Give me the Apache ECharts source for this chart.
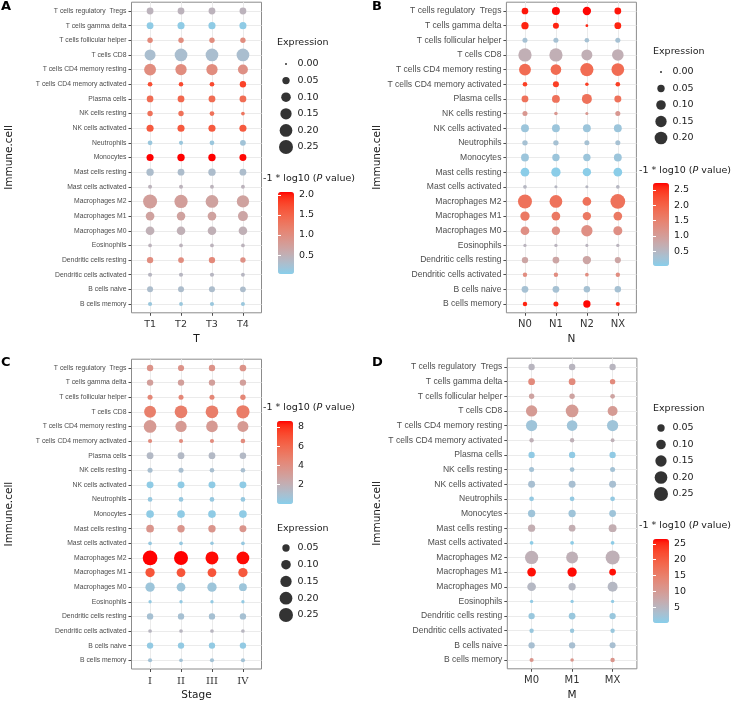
<!DOCTYPE html>
<html><head><meta charset="utf-8">
<script src="https://cdn.jsdelivr.net/npm/echarts@6/dist/echarts.min.js"></script>
<style>html,body{margin:0;padding:0;background:#fff}#c{width:734px;height:702px}</style>
</head><body><div id="c"></div>
<script>
// ---------------- DATA ----------------
const cells = ['T cells regulatory  Tregs','T cells gamma delta','T cells follicular helper','T cells CD8',
 'T cells CD4 memory resting','T cells CD4 memory activated','Plasma cells','NK cells resting','NK cells activated',
 'Neutrophils','Monocytes','Mast cells resting','Mast cells activated','Macrophages M2','Macrophages M1',
 'Macrophages M0','Eosinophils','Dendritic cells resting','Dendritic cells activated','B cells naive','B cells memory'];

const groupsA = ['T1','T2','T3','T4'];
const groupsB = ['N0','N1','N2','NX'];
const groupsC = ['I','II','III','IV'];
const groupsD = ['M0','M1','MX'];

// Expression (dot size), rows follow `cells`
const exprA = [[0.04,0.04,0.04,0.04],[0.04,0.045,0.045,0.045],[0.02,0.02,0.02,0.02],[0.14,0.2,0.2,0.2],
 [0.17,0.15,0.15,0.11],[0.013,0.011,0.013,0.033],[0.038,0.04,0.04,0.04],[0.02,0.02,0.013,0.005],
 [0.045,0.045,0.045,0.045],[0.013,0.008,0.013,0.025],[0.045,0.05,0.05,0.043],[0.05,0.04,0.05,0.04],
 [0.007,0.007,0.006,0.006],[0.25,0.22,0.2,0.185],[0.078,0.075,0.078,0.11],[0.078,0.075,0.075,0.075],
 [0.005,0.005,0.005,0.005],[0.033,0.025,0.033,0.02],[0.008,0.008,0.008,0.006],[0.028,0.028,0.028,0.025],
 [0.008,0.006,0.008,0.007]];
const pvalA = [[0.45,0.45,0.45,0.45],[0.08,0.08,0.08,0.08],[1.05,1.0,1.0,1.0],[0.28,0.28,0.28,0.28],
 [1.0,1.0,1.0,0.95],[1.7,1.75,1.75,1.8],[1.4,1.45,1.4,1.4],[1.35,1.35,1.35,1.3],[1.6,1.6,1.6,1.6],
 [0.15,0.15,0.15,0.2],[2.07,2.07,2.07,2.05],[0.3,0.3,0.3,0.3],[0.45,0.45,0.45,0.45],[0.75,0.75,0.7,0.7],
 [0.7,0.7,0.7,0.65],[0.5,0.5,0.5,0.5],[0.45,0.45,0.45,0.45],[1.0,1.0,1.05,0.95],[0.4,0.4,0.4,0.4],
 [0.3,0.3,0.3,0.3],[0.15,0.15,0.15,0.15]];

const exprB = [[0.038,0.0625,0.07,0.04],[0.049,0.028,0.001,0.04],[0.016,0.016,0.012,0.016],[0.22,0.22,0.14,0.16],
 [0.17,0.13,0.22,0.2],[0.012,0.028,0.004,0.012],[0.04,0.06,0.11,0.043],[0.016,0.004,0.002,0.016],
 [0.06,0.06,0.06,0.06],[0.02,0.02,0.016,0.016],[0.06,0.05,0.05,0.06],[0.078,0.093,0.07,0.078],
 [0.005,0.002,0.002,0.005],[0.25,0.2,0.078,0.28],[0.093,0.078,0.07,0.078],[0.078,0.07,0.15,0.085],
 [0.003,0.003,0.002,0.003],[0.033,0.04,0.07,0.03],[0.01,0.01,0.005,0.01],[0.04,0.04,0.035,0.035],
 [0.01,0.016,0.049,0.008]];
const pvalB = [[2.65,2.7,2.7,2.65],[2.6,2.6,2.6,2.6],[0.3,0.3,0.3,0.3],[0.65,0.65,0.65,0.65],
 [1.85,1.85,1.85,1.85],[2.4,2.4,2.4,2.4],[1.75,1.75,1.75,1.75],[1.1,1.1,1.1,1.1],[0.2,0.2,0.2,0.2],
 [0.3,0.3,0.3,0.3],[0.2,0.2,0.2,0.2],[0.05,0.05,0.05,0.05],[0.5,0.5,0.5,0.5],[1.75,1.75,1.75,1.75],
 [1.65,1.65,1.65,1.65],[1.25,1.25,1.25,1.25],[0.55,0.55,0.55,0.55],[0.85,0.85,0.85,0.85],[1.3,1.3,1.3,1.3],
 [0.3,0.3,0.3,0.3],[2.6,2.6,2.7,2.6]];

const exprC = [[0.033,0.03,0.033,0.038],[0.033,0.033,0.033,0.033],[0.016,0.016,0.016,0.02],[0.17,0.2,0.2,0.22],
 [0.2,0.15,0.16,0.14],[0.008,0.008,0.008,0.012],[0.04,0.04,0.04,0.035],[0.016,0.016,0.012,0.012],
 [0.043,0.043,0.043,0.043],[0.013,0.013,0.013,0.013],[0.056,0.056,0.056,0.056],[0.056,0.05,0.05,0.043],
 [0.005,0.005,0.004,0.005],[0.28,0.25,0.21,0.2],[0.093,0.08,0.08,0.093],[0.093,0.078,0.093,0.06],
 [0.003,0.003,0.003,0.003],[0.033,0.033,0.033,0.033],[0.005,0.005,0.005,0.005],[0.033,0.033,0.033,0.033],
 [0.008,0.005,0.008,0.008]];
const pvalC = [[3.7,3.7,3.7,3.7],[3.0,3.0,3.0,3.0],[4.4,4.4,4.4,4.4],[4.8,4.9,4.9,5.0],[3.3,3.3,3.3,3.3],
 [4.2,4.2,4.2,4.2],[1.4,1.4,1.4,1.4],[1.0,1.0,1.0,1.0],[0.2,0.2,0.2,0.2],[0.4,0.4,0.4,0.4],[0.2,0.2,0.2,0.2],
 [3.6,3.6,3.6,3.6],[0.4,0.4,0.4,0.4],[8.6,8.6,8.5,8.5],[6.8,6.8,6.8,6.7],[0.6,0.6,0.6,0.6],[0.3,0.3,0.3,0.3],
 [0.9,0.9,0.9,0.9],[1.6,1.6,1.6,1.6],[0.3,0.3,0.3,0.3],[0.8,0.8,0.8,0.8]];

const exprD = [[0.033,0.035,0.033],[0.04,0.04,0.02],[0.02,0.02,0.013],[0.15,0.2,0.11],[0.15,0.13,0.15],
 [0.01,0.01,0.006],[0.033,0.033,0.033],[0.016,0.013,0.016],[0.043,0.043,0.043],[0.013,0.013,0.013],
 [0.049,0.049,0.04],[0.049,0.04,0.06],[0.005,0.005,0.005],[0.22,0.17,0.25],[0.078,0.093,0.04],
 [0.078,0.049,0.11],[0.003,0.003,0.003],[0.033,0.04,0.033],[0.01,0.01,0.01],[0.033,0.033,0.028],
 [0.008,0.004,0.01]];
const pvalD = [[5,5,5],[13,13,13],[8.5,8.5,8.5],[10,10,10],[2,2,2],[6,6,6],[0.8,0.8,0.8],[2.5,2.5,2.5],
 [3,3,3],[1,1,1],[2,2,2],[6.5,6.5,6.5],[0.5,0.5,0.5],[6,6,6],[26,26.2,26],[4.5,4.5,4.5],[0.8,0.8,0.8],
 [1.5,1.5,1.5],[1.5,1.5,1.5],[3,3,3],[11,11,11]];

// colour scale limits and colourbar ticks
const cRangeA = [0.03, 2.07], cTicksA = [0.5,1,1.5,2], cLabelsA = ['0.5','1.0','1.5','2.0'];
const cRangeB = [0.02, 2.72], cTicksB = [0.5,1,1.5,2,2.5], cLabelsB = ['0.5','1.0','1.5','2.0','2.5'];
const cRangeC = [0, 8.6], cTicksC = [2,4,6,8], cLabelsC = ['2','4','6','8'];
const cRangeD = [0, 26.5], cTicksD = [5,10,15,20,25], cLabelsD = ['5','10','15','20','25'];
// size legend breaks
const sBreaksA = [0,0.05,0.10,0.15,0.20,0.25], sLabelsA = ['0.00','0.05','0.10','0.15','0.20','0.25'];
const sBreaksB = [0,0.05,0.10,0.15,0.20], sLabelsB = ['0.00','0.05','0.10','0.15','0.20'];
const sBreaksC = [0.05,0.10,0.15,0.20,0.25], sLabelsC = ['0.05','0.10','0.15','0.20','0.25'];
const sBreaksD = [0.05,0.10,0.15,0.20,0.25], sLabelsD = ['0.05','0.10','0.15','0.20','0.25'];

// ---------------- STYLE HELPERS ----------------
const sizeOf = v => 2 + 24 * Math.sqrt(Math.max(v, 0));
function s2l(c){c/=255;return c<=0.04045?c/12.92:Math.pow((c+0.055)/1.055,2.4);}
function l2s(c){const v=c<=0.0031308?12.92*c:1.055*Math.pow(c,1/2.4)-0.055;return Math.max(0,Math.min(255,Math.round(v*255)));}
function rgb2lab(rgb){const r=s2l(rgb[0]),g=s2l(rgb[1]),b=s2l(rgb[2]);
 const x=(0.4124564*r+0.3575761*g+0.1804375*b)/0.95047, y=0.2126729*r+0.7151522*g+0.0721750*b,
 z=(0.0193339*r+0.1191920*g+0.9503041*b)/1.08883;
 const f=t=>t>0.008856?Math.cbrt(t):7.787*t+16/116; const fx=f(x),fy=f(y),fz=f(z);
 return [116*fy-16,500*(fx-fy),200*(fy-fz)];}
function lab2rgb(lab){const fy=(lab[0]+16)/116, fx=fy+lab[1]/500, fz=fy-lab[2]/200;
 const fi=t=>t*t*t>0.008856?t*t*t:(t-16/116)/7.787;
 const x=fi(fx)*0.95047,y=fi(fy),z=fi(fz)*1.08883;
 const r=3.2404542*x-1.5371385*y-0.4985314*z, g=-0.9692660*x+1.8760108*y+0.0415560*z, b=0.0556434*x-0.2040259*y+1.0572252*z;
 return 'rgb('+l2s(r)+','+l2s(g)+','+l2s(b)+')';}
const lo = rgb2lab([135,206,235]), hi = rgb2lab([255,0,0]);
const stops = [];
for (let i=0;i<=24;i++){const t=i/24; stops.push(lab2rgb([lo[0]+(hi[0]-lo[0])*t, lo[1]+(hi[1]-lo[1])*t, lo[2]+(hi[2]-lo[2])*t]));}

const SANS = 'DejaVu Sans', ARIAL = 'Liberation Sans';
const panels = [
 {letter:'A', groups:groupsA, expr:exprA, pval:pvalA, xName:'T', cRange:cRangeA, cTicks:cTicksA, cLabels:cLabelsA, sBreaks:sBreaksA, sLabels:sLabelsA,
  lay:{gx:131.5, gy:2.2, gw:130, gh:310.6, yFont:6.8, xFont:9.5, xFam:SANS, yNameGap:117, lx:1, ly:0,
       sx:279, sTop:55.7, sH:99.6, ex:277, ey:38, bx:278, bTop:192, bH:82, ctx:263, cty:174}},
 {letter:'B', groups:groupsB, expr:exprB, pval:pvalB, xName:'N', cRange:cRangeB, cTicks:cTicksB, cLabels:cLabelsB, sBreaks:sBreaksB, sLabels:sLabelsB,
  lay:{gx:506.4, gy:2.2, gw:130, gh:310.6, yFont:8.55, xFont:10, xFam:SANS, yNameGap:124, lx:372, ly:0,
       sx:654, sTop:63.75, sH:82.5, ex:653, ey:47, bx:653, bTop:183, bH:83, ctx:639, cty:166}},
 {letter:'C', groups:groupsC, expr:exprC, pval:pvalC, xName:'Stage', cRange:cRangeC, cTicks:cTicksC, cLabels:cLabelsC, sBreaks:sBreaksC, sLabels:sLabelsC,
  lay:{gx:131.5, gy:359.2, gw:130, gh:310.6, yFont:6.8, xFont:10, xFam:'DejaVu Serif', yNameGap:117, lx:1, ly:356,
       sx:279, sTop:539.6, sH:83.75, ex:277, ey:524, bx:277, bTop:421, bH:83, ctx:263, cty:403}},
 {letter:'D', groups:groupsD, expr:exprD, pval:pvalD, xName:'M', cRange:cRangeD, cTicks:cTicksD, cLabels:cLabelsD, sBreaks:sBreaksD, sLabels:sLabelsD,
  lay:{gx:507.3, gy:358.2, gw:129.6, gh:310.6, yFont:8.55, xFont:10, xFam:SANS, yNameGap:125, lx:372, ly:356,
       sx:654, sTop:419.75, sH:82.5, ex:653, ey:404, bx:653, bTop:539, bH:84, ctx:639, cty:521}}
];

const option = {animation:false, backgroundColor:'#fff', title:[], grid:[], xAxis:[], yAxis:[], series:[], visualMap:[]};
panels.forEach(p => {
 const L = p.lay;
 option.title.push({text:p.letter, left:L.lx, top:L.ly, padding:0, textStyle:{fontFamily:SANS, fontWeight:'bold', fontSize:13, color:'#000'}});
 option.title.push({text:'Expression', left:L.ex, top:L.ey, padding:0, textStyle:{fontFamily:SANS, fontWeight:'normal', fontSize:9.5, color:'#1a1a1a'}});
 option.title.push({text:'-1 * log10 ({i|P} value)', left:L.ctx, top:L.cty, padding:0,
   textStyle:{fontFamily:SANS, fontWeight:'normal', fontSize:9.5, color:'#1a1a1a',
     rich:{i:{fontFamily:SANS, fontStyle:'italic', fontSize:9.5, color:'#1a1a1a'}}}});

 let gi = option.grid.length;
 option.grid.push({left:L.gx, top:L.gy, width:L.gw, height:L.gh, show:true, borderColor:'#8c8c8c', borderWidth:1, backgroundColor:'#fff'});
 const xVals = p.groups.map((g,i)=>i+1), yVals = cells.map((c,i)=>i+1);
 let xi = option.xAxis.length, yi = option.yAxis.length;
 option.xAxis.push({gridIndex:gi, type:'value', min:0.4, max:p.groups.length+0.6,
   axisLine:{show:false}, axisTick:{show:true, length:3, customValues:xVals, lineStyle:{color:'#4d4d4d'}},
   axisLabel:{customValues:xVals, formatter:v=>p.groups[Math.round(v)-1], margin:7, color:'#333', fontFamily:L.xFam, fontSize:L.xFont},
   splitLine:{show:true, lineStyle:{color:'#ebebeb', width:1}},
   name:p.xName, nameLocation:'middle', nameGap:21, nameTextStyle:{fontFamily:SANS, fontSize:10.5, color:'#1a1a1a'}});
 option.yAxis.push({gridIndex:gi, type:'value', min:0.4, max:cells.length+0.6, inverse:true,
   axisLine:{show:false}, axisTick:{show:true, length:3, customValues:yVals, lineStyle:{color:'#4d4d4d'}},
   axisLabel:{customValues:yVals, formatter:v=>cells[Math.round(v)-1], margin:5, color:'#4d4d4d', fontFamily:ARIAL, fontSize:L.yFont},
   splitLine:{show:true, lineStyle:{color:'#ebebeb', width:1}},
   name:'Immune.cell', nameLocation:'middle', nameRotate:90, nameGap:L.yNameGap, nameTextStyle:{fontFamily:SANS, fontSize:10.5, color:'#1a1a1a'}});
 const data = [];
 cells.forEach((c,r)=>p.groups.forEach((g,k)=>data.push([k+1, r+1, p.pval[r][k], p.expr[r][k]])));
 const si = option.series.length;
 option.series.push({type:'scatter', xAxisIndex:xi, yAxisIndex:yi, data:data, symbol:'circle',
   symbolSize:v=>sizeOf(v[3]), itemStyle:{opacity:1}, z:3});
 option.visualMap.push({type:'continuous', seriesIndex:si, dimension:2, min:p.cRange[0], max:p.cRange[1],
   inRange:{color:stops}, calculable:false, hoverLink:false, left:L.bx, top:L.bTop, itemWidth:16, itemHeight:L.bH, padding:0, orient:'vertical'});

 gi = option.grid.length;
 option.grid.push({left:L.bx, top:L.bTop, width:16, height:L.bH, show:false});
 option.xAxis.push({gridIndex:gi, type:'value', show:false});
 option.yAxis.push({gridIndex:gi, type:'value', position:'right', min:p.cRange[0], max:p.cRange[1], z:10,
   axisLine:{show:false}, splitLine:{show:false},
   axisTick:{show:true, inside:true, length:3, customValues:p.cTicks, lineStyle:{color:'#fff', width:1}},
   axisLabel:{customValues:p.cTicks, formatter:v=>p.cLabels[p.cTicks.indexOf(v)], margin:5, color:'#1a1a1a', fontFamily:SANS, fontSize:9.5}});
 option.yAxis.push({gridIndex:gi, type:'value', position:'left', min:p.cRange[0], max:p.cRange[1], z:10,
   axisLine:{show:false}, splitLine:{show:false}, axisLabel:{show:false},
   axisTick:{show:true, inside:true, length:3, customValues:p.cTicks, lineStyle:{color:'#fff', width:1}}});

 gi = option.grid.length;
 option.grid.push({left:L.sx, top:L.sTop, width:14, height:L.sH, show:false});
 xi = option.xAxis.length; yi = option.yAxis.length;
 option.xAxis.push({gridIndex:gi, type:'category', data:['e'], show:false});
 option.yAxis.push({gridIndex:gi, type:'category', data:p.sLabels, inverse:true, position:'right',
   axisLine:{show:false}, axisTick:{show:false}, splitLine:{show:false},
   axisLabel:{margin:4.5, color:'#1a1a1a', fontFamily:SANS, fontSize:9.5}});
 option.series.push({type:'scatter', xAxisIndex:xi, yAxisIndex:yi, symbol:'circle',
   data:p.sBreaks.map((b,i)=>[0, i, b]), symbolSize:v=>sizeOf(v[2]), itemStyle:{color:'#000'}});
});

const chart = echarts.init(document.getElementById('c'), null, {renderer:'canvas'});
chart.setOption(option);
</script>
</body></html>
